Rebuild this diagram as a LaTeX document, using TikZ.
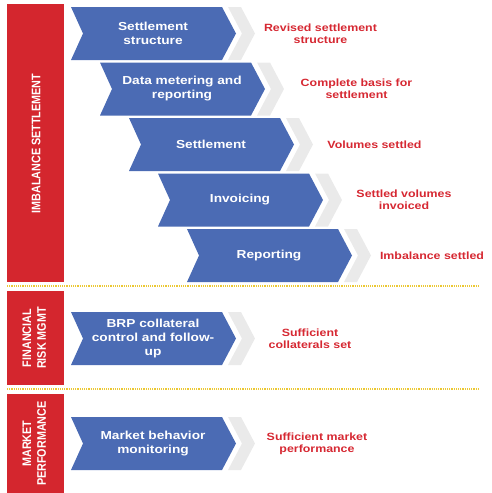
\documentclass[tikz,border=0pt]{standalone}
\usepackage{fontspec}
\usepackage{graphicx}
\setmainfont{Liberation Sans}
\newfontfamily\wf{Liberation Sans}[FakeStretch=1.18]
\definecolor{barred}{RGB}{212,38,46}
\definecolor{txtred}{RGB}{214,40,50}
\definecolor{chevblue}{RGB}{75,107,180}
\definecolor{chevgray}{RGB}{234,234,234}
\definecolor{dotyellow}{RGB}{236,200,50}
\tikzset{
  bluetext/.style={text=white, align=center, font=\wf\bfseries\fontsize{11.6}{14}\selectfont, inner sep=0pt},
  redtext/.style={text=txtred, align=center, font=\wf\bfseries\fontsize{10.5}{12}\selectfont, inner sep=0pt},
  sidetext/.style={text=white, rotate=90, font=\bfseries\fontsize{10.8}{13}\selectfont, inner sep=0pt},
  sidebar/.style={fill=barred},
  sepline/.style={draw=dotyellow, line width=1.2pt, dash pattern=on 1.2pt off 1pt},
}
\newcommand\mychevron[4]{%
  \fill[chevgray] (#2+157,#3) -- (#2+170,#3) -- (#2+184,#3+26.5) -- (#2+170,#3+53) -- (#2+157,#3+53) -- (#2+171,#3+26.5) -- cycle;
  \fill[chevblue] (#2,#3) -- (#2+151,#3) -- (#2+165,#3+26.5) -- (#2+151,#3+53) -- (#2,#3+53) -- (#2+12,#3+26.5) -- cycle;
  \node[bluetext] (#1) at (#2+82,#3+26.5) {#4};
}
\begin{document}
\begin{tikzpicture}[x=1pt,y=-1pt]
\useasboundingbox (0,0) rectangle (491,493);
% side bars
\fill[sidebar] (7,4) rectangle (64,282);
\fill[sidebar] (7,291) rectangle (64,385);
\fill[sidebar] (7,394) rectangle (64,493);
\node[sidetext] (s1) at (36,143.5) {\scalebox{1}[1.15]{IMBALANCE SETTLEMENT}};
\node[sidetext] (s2) at (35.5,338) {\scalebox{1}[1.15]{\begin{tabular}{@{}c@{}}FINANCIAL\\RISK MGMT\end{tabular}}};
\node[sidetext] (s3) at (35.5,443.5) {\scalebox{1}[1.15]{\begin{tabular}{@{}c@{}}MARKET\\PERFORMANCE\end{tabular}}};
% separators
\draw[sepline] (7,286) -- (480,286);
\draw[sepline] (7,389) -- (480,389);
% chevrons
\mychevron{c1}{71}{7}{Settlement\\structure}
\mychevron{c2}{100}{62.5}{Data metering and\\reporting}
\mychevron{c3}{129}{118}{Settlement}
\mychevron{c4}{158}{173.5}{Invoicing}
\mychevron{c5}{187}{229}{Reporting}
\mychevron{c6}{71}{312}{BRP collateral\\control and follow-\\up}
\mychevron{c7}{71}{417}{Market behavior\\monitoring}
% outcomes
\node[redtext] (r1) at (320.5,33.5) {Revised settlement\\structure};
\node[redtext] (r2) at (356.5,89) {Complete basis for\\settlement};
\node[redtext] (r3) at (374.5,144.5) {Volumes settled};
\node[redtext] (r4) at (404,200) {Settled volumes\\invoiced};
\node[redtext] (r5) at (432,255.5) {Imbalance settled};
\node[redtext] (r6) at (310,338.5) {Sufficient\\collaterals set};
\node[redtext] (r7) at (317,443.5) {Sufficient market\\performance};
\end{tikzpicture}
\end{document}
